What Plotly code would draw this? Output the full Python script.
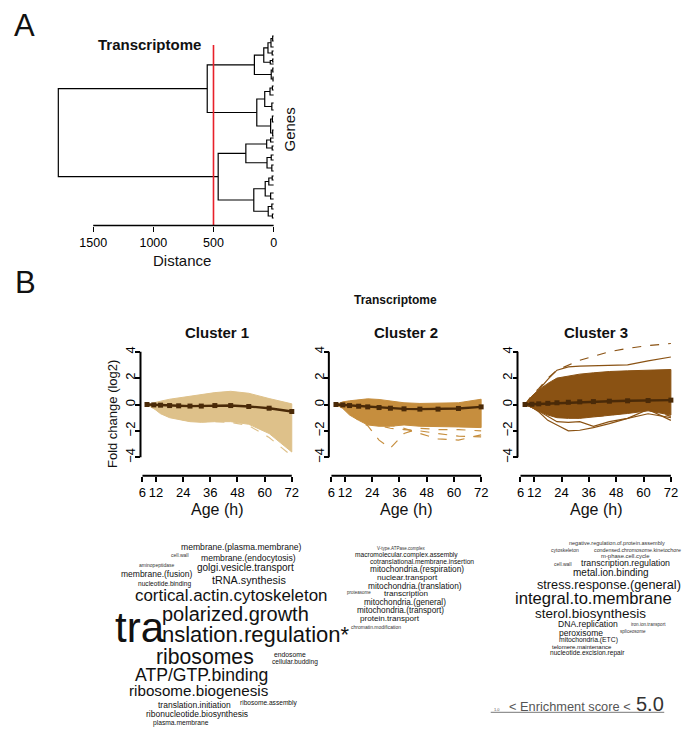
import plotly.graph_objects as go

# ---------------- DATA ----------------
# Dendrogram (merge heights; leaves given by their order position)
dendro_tree = (1790,
    (552,
        (160,
            (82, (47, (22, (8, 36, 41), 47), (12, 51, 55)), (28, (8, 59, 62), 64)),
            (20, (7, 68, 72), (5, 77, 81))),
        (140,
            (74, (30, (10, 86, 90), 95), (15, 103, 110)),
            (25, (10, 116, 122), (8, 130, 136)))),
    (461,
        (231,
            (58, (25, 138, 142), (12, 146, 150)),
            (55, (20, 155, 160), (15, 165, 171))),
        (165,
            (70, (40, (12, 176, 180), 185), (25, 193, 199)),
            (45, (15, 204, 209), (10, 214, 218)))))
cut_height = 500
distance_ticks = [0, 500, 1000, 1500]

# Time course (hours)
hours = [8, 11, 14, 18, 22, 27, 32, 38, 45, 53, 62, 72]
age_ticks = [6, 12, 24, 36, 48, 60, 72]
fc_ticks = [-4, -2, 0, 2, 4]

c1_upper = [0, 0.15, 0.25, 0.4, 0.5, 0.65, 0.8, 0.9, 1.0, 0.85, 0.45, 0.05]
c1_lower = [0, -0.3, -0.7, -1.0, -1.15, -1.3, -1.35, -1.3, -1.3, -1.5, -2.2, -3.6]
c1_mean = [0, -0.03, -0.05, -0.08, -0.1, -0.12, -0.12, -0.08, -0.08, -0.15, -0.28, -0.53]
c1_outliers = [
    [0, -0.3, -0.6, -0.9, -1.1, -1.25, -1.3, -1.3, -1.35, -1.6, -2.5, -3.9],
]

c2_upper = [0, 0.2, 0.28, 0.33, 0.43, 0.38, 0.28, 0.13, 0.08, 0.08, 0.13, 0.4]
c2_lower = [0, -0.3, -0.8, -1.2, -1.55, -1.65, -1.65, -1.55, -1.65, -1.7, -1.7, -1.75]
c2_mean = [0, -0.03, -0.08, -0.13, -0.18, -0.23, -0.28, -0.33, -0.35, -0.35, -0.3, -0.18]
c2_outliers = [
    [0, -0.2, -0.6, -1.2, -1.6, -2.7, -3.3, -2.2, -1.8, -1.9, -1.9, -2.0],
    [0, -0.2, -0.5, -0.9, -1.2, -1.4, -1.6, -1.8, -2.2, -2.6, -2.7, -2.3],
    [0, -0.2, -0.5, -0.9, -1.3, -1.6, -1.8, -1.9, -2.0, -2.2, -2.4, -2.45],
]

c3_upper = [0, 0.63, 1.1, 1.6, 2.0, 2.15, 2.3, 2.4, 2.5, 2.55, 2.6, 2.65]
c3_lower = [0, -0.22, -0.48, -0.8, -1.0, -1.05, -1.05, -0.93, -0.8, -0.68, -0.48, -0.8]
c3_mean = [0, 0.02, 0.05, 0.09, 0.13, 0.17, 0.2, 0.22, 0.25, 0.28, 0.3, 0.33]
c3_outliers = [
    [0, 0.7, 1.2, 2.0, 2.6, 3.0, 3.35, 3.65, 4.0, 4.25, 4.47, 4.62],
    [0, 0.6, 1.1, 1.9, 2.6, 2.85, 2.9, 2.93, 2.93, 3.0, 3.3, 3.6],
    [0, -0.2, -0.55, -1.2, -1.55, -2.0, -1.95, -1.75, -1.45, -1.05, -0.38, -1.2],
    [0, -0.2, -0.5, -0.9, -1.3, -1.35, -1.3, -1.65, -1.3, -1.05, -0.7, -1.0],
    [0, -0.2, -0.4, -0.7, -0.9, -1.0, -1.0, -0.9, -0.8, -0.6, -0.35, -0.9],
]
c3_outlier_dash = ["dash", "solid", "solid", "solid", "dash"]

cluster_names = ["Cluster 1", "Cluster 2", "Cluster 3"]

# Word clouds (GO terms)
cloud1_terms = ["membrane.(plasma.membrane)", "cell.wall", "membrane.(endocytosis)", "aminopeptidase",
                "membrane.(fusion)", "golgi.vesicle.transport", "nucleotide.binding", "tRNA.synthesis",
                "cortical.actin.cytoskeleton", "polarized.growth", "tra", "nslation.regulation*",
                "ribosomes", "endosome", "cellular.budding", "ATP/GTP.binding", "ribosome.biogenesis",
                "translation.initiation", "ribosome.assembly", "ribonucleotide.biosynthesis", "plasma.membrane"]
cloud2_terms = ["V-type.ATPase.complex", "macromolecular.complex.assembly", "cotranslational.membrane.insertion",
                "mitochondria.(respiration)", "nuclear.transport", "mitochondria.(translation)", "proteasome",
                "transcription", "mitochondria.(general)", "mitochondria.(transport)", "protein.transport",
                "chromatin.modification"]
cloud3_terms = ["negative.regulation.of.protein.assembly", "cytoskeleton", "condensed.chromosome.kinetochore",
                "m-phase.cell.cycle", "cell.wall", "transcription.regulation", "metal.ion.binding",
                "stress.response.(general)", "integral.to.membrane", "sterol.biosynthesis", "DNA.replication",
                "iron.ion.transport", "peroxisome", "spliceosome", "mitochondria.(ETC)", "telomere.maintenance",
                "nucleotide.excision.repair"]

# ---------------- LAYOUT HELPERS ----------------
W, H = 697, 740
def px(x):
    return x / W
def py(y):
    return 1 - y / H

FONT = "Liberation Sans, Arial, sans-serif"
fig = go.Figure()
shapes = []
annotations = []

def ann(text, x, y, size, bold=False, color="#111111", angle=0, xanchor="center"):
    t = "<b>%s</b>" % text if bold else text
    annotations.append(dict(text=t, x=px(x), y=py(y), xref="paper", yref="paper",
                            showarrow=False, xanchor=xanchor, yanchor="middle", textangle=angle,
                            borderpad=0,
                            font=dict(size=size, color=color, family=FONT)))

# ---------------- PANEL A: dendrogram ----------------
seg_x, seg_y = [], []
def walk(node):
    if not isinstance(node, tuple):
        return node, 0.0
    h, a, b = node
    ya, ha = walk(a)
    yb, hb = walk(b)
    seg_x.extend([ha, h, h, hb, None])
    seg_y.extend([ya, ya, yb, yb, None])
    return (ya + yb) / 2, h
walk(dendro_tree)

fig.add_trace(go.Scatter(x=seg_x, y=seg_y, mode="lines", line=dict(color="black", width=1.2),
                         xaxis="x", yaxis="y", hoverinfo="skip"))
fig.add_trace(go.Scatter(x=[cut_height, cut_height], y=[45, 225.5], mode="lines",
                         line=dict(color="#e8202a", width=1.6), xaxis="x", yaxis="y", hoverinfo="skip"))

d_scale = 182 / 1500.0
axis_common = dict(showgrid=False, zeroline=False, showline=False, ticks="outside",
                   tickcolor="black", tickfont=dict(size=13, color="black", family=FONT))
layout_axes = {}
layout_axes["xaxis"] = dict(domain=[px(50), px(276)], range=[(275 - 50) / d_scale, (275 - 276) / d_scale],
                            tickvals=distance_ticks, ticklen=5, tickwidth=1.2, anchor="y",
                            showgrid=False, zeroline=False, showline=False, ticks="outside", tickcolor="black",
                            tickfont=dict(size=12.5, color="black", family=FONT))
layout_axes["yaxis"] = dict(domain=[py(225.5), py(30)], range=[225.5, 30], visible=False, anchor="x")
shapes.append(dict(type="line", xref="x", yref="paper", x0=max(distance_ticks), x1=min(distance_ticks),
                   y0=py(225.5), y1=py(225.5), line=dict(color="black", width=1.3)))

ann("A", 24, 26, 31)
ann("Transcriptome", 150, 44, 15, bold=True)
ann("Distance", 183, 260, 15)
ann("Genes", 290, 130, 15, angle=-90)

# ---------------- PANEL B: clusters ----------------
ann("B", 25, 282, 31)
ann("Transcriptome", 398, 300, 12, bold=True)

colors = ["#DEC18A", "#C68E3E", "#8A5213"]
mean_color = "#4A2A08"
geo = [(142.7, 293.3, 140.7), (333.3, 484.3, 330.7), (524.0, 675.7, 521.0)]
uppers = [c1_upper, c2_upper, c3_upper]
lowers = [c1_lower, c2_lower, c3_lower]
means = [c1_mean, c2_mean, c3_mean]
outs = [c1_outliers, c2_outliers, c3_outliers]
dashes = [["dash"], ["dash", "dash", "dash"], c3_outlier_dash]

y_top4, y_bot4 = 351.7, 457.3
ys = (y_bot4 - y_top4) / 8.0
xline_y = 475.7
for i in range(3):
    x6, x72, yl = geo[i]
    sc = (x72 - x6) / 66.0
    xa, ya = "x%d" % (i + 2), "y%d" % (i + 2)
    layout_axes["xaxis%d" % (i + 2)] = dict(domain=[px(x6 - sc), px(x72 + sc)], range=[5, 73],
                                            anchor="free", position=py(xline_y), tickvals=age_ticks,
                                            ticklen=5, tickwidth=1.6, **axis_common)
    layout_axes["yaxis%d" % (i + 2)] = dict(domain=[py(y_bot4 + 0.8 * ys), py(y_top4 - 0.8 * ys)],
                                            range=[-4.8, 4.8], anchor="free", position=px(yl),
                                            tickvals=fc_ticks, tickangle=-90, ticklen=5, tickwidth=1.6,
                                            ticklabelstandoff=-5, **axis_common)
    shapes.append(dict(type="line", xref=xa, yref="paper", x0=min(age_ticks), x1=max(age_ticks),
                       y0=py(xline_y), y1=py(xline_y), line=dict(color="black", width=2)))
    shapes.append(dict(type="line", xref="paper", yref=ya, x0=px(yl), x1=px(yl),
                       y0=min(fc_ticks), y1=max(fc_ticks), line=dict(color="black", width=2)))
    # envelope of gene profiles
    fig.add_trace(go.Scatter(x=hours + hours[::-1], y=uppers[i] + lowers[i][::-1], mode="lines",
                             fill="toself", fillcolor=colors[i], line=dict(color=colors[i], width=1),
                             xaxis=xa, yaxis=ya, hoverinfo="skip"))
    for o, dsh in zip(outs[i], dashes[i]):
        fig.add_trace(go.Scatter(x=hours, y=o, mode="lines", line=dict(color=colors[i], width=1.2, dash=dsh),
                                 xaxis=xa, yaxis=ya, hoverinfo="skip"))
    fig.add_trace(go.Scatter(x=hours, y=means[i], mode="lines+markers",
                             line=dict(color=mean_color, width=2.4),
                             marker=dict(color=mean_color, size=5, symbol="square"),
                             cliponaxis=False, xaxis=xa, yaxis=ya, hoverinfo="skip"))
    ann(cluster_names[i], (x6 + x72) / 2, 332, 15, bold=True)
    ann("Age (h)", (x6 + x72) / 2, 510, 16)
ann("Fold change (log2)", 113, 414, 13, angle=-90)

# ---------------- Word clouds ----------------
cloud1_place = [(242, 547, 8.6), (181, 554.5, 5), (250, 557.5, 8.6), (157, 564.5, 5), (157, 573.5, 8.5),
                (247, 567.5, 10), (165, 584, 6.6), (250, 580, 10.8), (232, 595, 16.9), (237, 613.5, 20),
                (140, 627.4, 42), (257, 634.4, 22), (206, 656.5, 21.2), (292, 654, 6.8), (297, 662, 6.6),
                (202, 674.5, 17.6), (200, 690.5, 15.2), (195, 705, 8.5), (270, 702.5, 6.6), (198, 713.5, 8.5),
                (182, 722.5, 6.7)]
cloud2_place = [(403, 548.3, 4.5), (409, 554.7, 6.6), (425, 561, 6.7), (420, 569, 8.3), (410, 577.3, 8.1),
                (418, 585.7, 8.3), (361, 592.3, 4.5), (409, 593.3, 8.1), (408, 602.3, 8.2), (403, 610, 8.2),
                (392, 618.3, 8.1), (378, 626.7, 5)]
cloud3_place = [(621, 543, 5.5), (569, 549.5, 5), (642, 549.5, 5.3), (630, 555.5, 5.9), (567, 564, 5),
                (630, 563, 8.8), (615, 572, 10), (613, 585, 12.7), (598, 598.5, 16.6), (595, 613.5, 13.5),
                (592, 624, 8.6), (653, 624.5, 4.6), (585, 632.5, 8.5), (637, 631, 4.6), (593, 640, 6.8),
                (586, 646.8, 6.0), (592, 652.8, 6.6)]
for terms, place in [(cloud1_terms, cloud1_place), (cloud2_terms, cloud2_place), (cloud3_terms, cloud3_place)]:
    for t, (x, y, s) in zip(terms, place):
        ann(t, x, y, s, color="#111111" if s >= 6 else "#333333")

# Enrichment legend
ann("1.0", 500, 709.5, 4, color="#555555")
ann("&lt; Enrichment score &lt;", 574, 706.5, 12.8, color="#555555")
ann("5.0", 655, 704.2, 20, color="#333333")
shapes.append(dict(type="line", xref="paper", yref="paper", x0=px(494), x1=px(669), y0=py(712.3), y1=py(712.3),
                   line=dict(color="#777777", width=1)))

fig.update_layout(width=W, height=H, margin=dict(l=0, r=0, t=0, b=0), paper_bgcolor="white",
                  plot_bgcolor="white", showlegend=False, shapes=shapes, annotations=annotations,
                  font=dict(family=FONT, color="black"), **layout_axes)
fig.write_html("out.html", config={"displayModeBar": False},
               post_script="document.body.style.margin='0';document.body.style.overflow='hidden';")
